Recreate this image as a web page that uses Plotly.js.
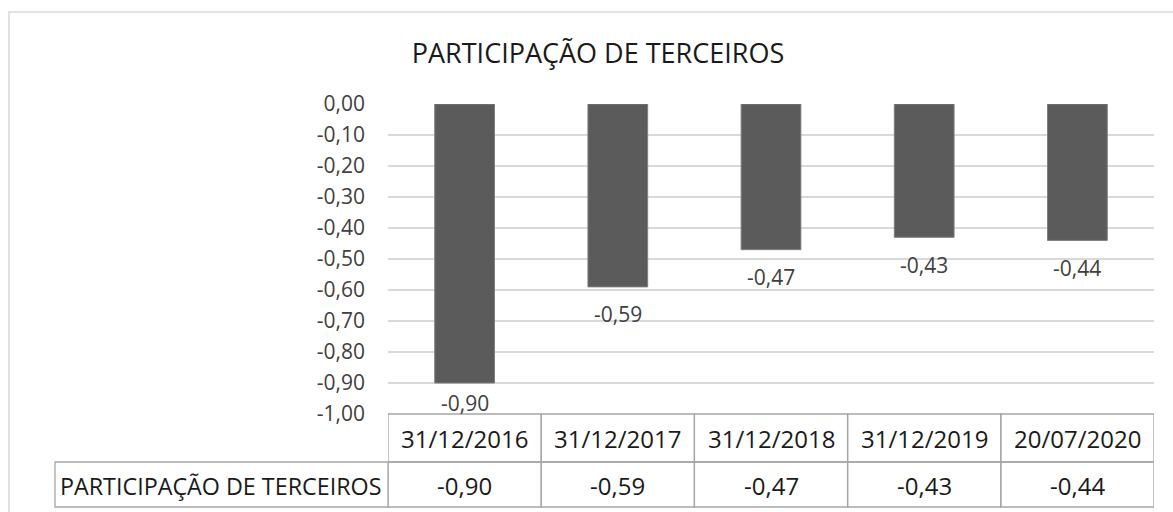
<!DOCTYPE html>
<html>
<head>
<meta charset="utf-8">
<script src="https://cdn.plot.ly/plotly-3.0.1.min.js"></script>
<style>
  html, body { margin: 0; padding: 0; background: #fff; }
  #chart { width: 1173px; height: 512px; }
</style>
</head>
<body>
<div id="chart"></div>
<script>
// Values
var chartTitle = "PARTICIPAÇÃO DE TERCEIROS";
var seriesName = "PARTICIPAÇÃO DE TERCEIROS";
var dates = ["31/12/2016", "31/12/2017", "31/12/2018", "31/12/2019", "20/07/2020"];
var values = [-0.90, -0.59, -0.47, -0.43, -0.44];
var valueLabels = ["-0,90", "-0,59", "-0,47", "-0,43", "-0,44"];
var yTickVals = [0, -0.1, -0.2, -0.3, -0.4, -0.5, -0.6, -0.7, -0.8, -0.9, -1.0];
var yTickLabels = ["0,00", "-0,10", "-0,20", "-0,30", "-0,40", "-0,50", "-0,60", "-0,70", "-0,80", "-0,90", "-1,00"];

var fontFamily = "'Open Sans', 'Noto Sans', sans-serif";
var tableLine = {color: "#a6a6a6", width: 1.3};
var tableFont = {family: fontFamily, size: 24, color: "#1a1a1a"};

// table rows sit below the plot, in paper units (plot is 310px tall)
var headerBottom = -48 / 310;
var rowBottom = -93 / 310;
var labelCellLeft = -333 / 766;

var trace = {
  x: dates,
  y: values,
  type: "bar",
  marker: {
    color: "#5b5b5b",
    line: {color: "#7f7f7f", width: 1}
  },
  hoverinfo: "skip"
};

var shapes = [];
var annotations = [];

// outer chart border
shapes.push({
  type: "rect", xref: "paper", yref: "paper",
  x0: -379 / 766, x1: 1.04, y0: -0.4, y1: 402 / 310,
  line: {color: "#d9d9d9", width: 1.5}, layer: "below"
});

// data table: one column per category
for (var i = 0; i < dates.length; i++) {
  shapes.push({
    type: "rect", xref: "x", yref: "paper",
    x0: i - 0.5, x1: i + 0.5, y0: headerBottom, y1: 0,
    line: tableLine
  });
  shapes.push({
    type: "rect", xref: "x", yref: "paper",
    x0: i - 0.5, x1: i + 0.5, y0: rowBottom, y1: headerBottom,
    line: tableLine
  });
  annotations.push({
    x: dates[i], y: headerBottom / 2, xref: "x", yref: "paper",
    xanchor: "center", yanchor: "middle",
    text: dates[i], showarrow: false, font: tableFont
  });
  annotations.push({
    x: dates[i], y: (headerBottom + rowBottom) / 2 - 0.004, xref: "x", yref: "paper",
    xanchor: "center", yanchor: "middle",
    text: valueLabels[i], showarrow: false, font: tableFont
  });
  // data label under each bar, kept inside the plot area
  annotations.push({
    x: dates[i], y: Math.max(values[i] - 0.088, -0.965), xref: "x", yref: "y",
    xanchor: "center", yanchor: "middle",
    text: valueLabels[i], showarrow: false,
    font: {family: fontFamily, size: 21, color: "#404040"}
  });
}

// series name cell
shapes.push({
  type: "rect", xref: "paper", yref: "paper",
  x0: labelCellLeft, x1: 0, y0: rowBottom, y1: headerBottom,
  line: tableLine
});
annotations.push({
  x: labelCellLeft + 3 / 766, y: (headerBottom + rowBottom) / 2 - 0.004,
  xref: "paper", yref: "paper", xanchor: "left", yanchor: "middle",
  text: seriesName, showarrow: false,
  font: {family: fontFamily, size: 23.3, color: "#1a1a1a"}
});

var layout = {
  width: 1173,
  height: 512,
  margin: {l: 388, r: 19, t: 104, b: 98},
  paper_bgcolor: "#ffffff",
  plot_bgcolor: "#ffffff",
  showlegend: false,
  bargap: 0.61,
  font: {family: fontFamily, color: "#404040"},
  title: {
    text: chartTitle,
    xref: "container", yref: "container",
    x: 598 / 1173, xanchor: "center",
    y: 1 - 54 / 512, yanchor: "middle",
    font: {family: fontFamily, size: 27, color: "#1a1a1a"}
  },
  xaxis: {
    type: "category",
    range: [-0.5, dates.length - 0.5],
    showticklabels: false,
    showgrid: false,
    zeroline: false,
    showline: false,
    fixedrange: true
  },
  yaxis: {
    range: [-1, 0],
    tickvals: yTickVals,
    ticktext: yTickLabels,
    tickfont: {family: fontFamily, size: 21, color: "#404040"},
    ticks: "",
    ticklabelstandoff: 22,
    showgrid: true,
    gridcolor: "#d9d9d9",
    gridwidth: 1.5,
    zeroline: false,
    showline: false,
    fixedrange: true
  },
  shapes: shapes,
  annotations: annotations
};

Plotly.newPlot("chart", [trace], layout, {staticPlot: true, responsive: false});
</script>
</body>
</html>
